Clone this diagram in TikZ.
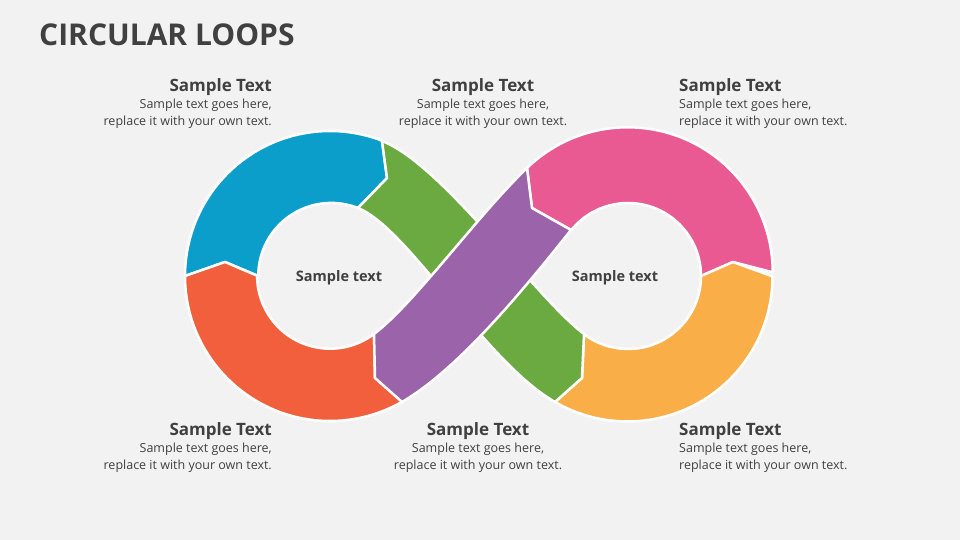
\documentclass[tikz,border=0pt]{standalone}
\usepackage{fontspec}
\setmainfont{Open Sans}
\definecolor{bg}{HTML}{F2F2F2}
\definecolor{txt}{HTML}{404040}
\definecolor{cblue}{HTML}{0B9ECB}
\definecolor{corange}{HTML}{F25F3C}
\definecolor{cpink}{HTML}{E95A93}
\definecolor{cyellow}{HTML}{F9AE48}
\definecolor{cgreen}{HTML}{6BAA40}
\definecolor{cpurple}{HTML}{9B63AA}
\begin{document}
\begin{tikzpicture}[x=1pt,y=1pt,
  seg/.style={draw=white,line width=2.5pt,line join=round},
  head/.style={text=txt,font=\fontsize{17}{20}\selectfont\bfseries,inner sep=0pt},
  body/.style={text=txt,font=\fontsize{12.5}{17}\selectfont,inner sep=0pt},
  mid/.style={text=txt,font=\fontsize{14.5}{17}\selectfont\bfseries,inner sep=0pt}]
\fill[bg] (0,0) rectangle (960,540);
\useasboundingbox (0,0) rectangle (960,540);
% blue
\path[seg,fill=cblue] (185,264) arc[start angle=180,end angle=69,radius=145]
  -- (387,362) -- (358,332) arc[start angle=68.5,end angle=180,radius=73] -- (225,278) -- cycle;
% orange
\path[seg,fill=corange] (185,264) arc[start angle=180,end angle=300,radius=145]
  -- (375,162) -- (374,206) arc[start angle=-53,end angle=-180,radius=73] -- (225,278) -- cycle;
% pink
\path[seg,fill=cpink] (527,372) arc[start angle=134,end angle=0,radius=145]
  -- (733,278) -- (701,264) arc[start angle=0,end angle=141,radius=73] -- (532,332) -- cycle;
% yellow
\path[seg,fill=cyellow] (555,138) arc[start angle=-120,end angle=0,radius=145]
  -- (733,278) -- (701,264) arc[start angle=0,end angle=-127,radius=73] -- (582,162) -- cycle;
% green
\path[seg,fill=cgreen] (382,399) .. controls (442,376) and (536,242) .. (584,206)
  -- (582,162) -- (555,138) .. controls (485,178) and (408,312) .. (358,332)
  -- (387,362) -- cycle;
% purple
\path[seg,fill=cpurple] (374,206) .. controls (414,236) and (477,324) .. (527,372)
  -- (532,332) -- (571,310) .. controls (531,260) and (462,173) .. (402,138)
  -- (375,162) -- cycle;
% texts
\node[anchor=west,text=txt,font=\fontsize{30}{34}\selectfont\bfseries,inner sep=0pt] (title) at (39,505) {CIRCULAR LOOPS};
\node[mid] (lc) at (339,262) {Sample text};
\node[mid] (rc) at (615,262) {Sample text};
\node[head,anchor=east] (h1) at (272,453) {Sample Text};
\node[body,anchor=north east,align=right] (b1) at (272,441) {Sample text goes here,\\replace it with your own text.};
\node[head] (h2) at (483,453) {Sample Text};
\node[body,anchor=north,align=center] (b2) at (483,441) {Sample text goes here,\\replace it with your own text.};
\node[head,anchor=west] (h3) at (679,453) {Sample Text};
\node[body,anchor=north west,align=left] (b3) at (679,441) {Sample text goes here,\\replace it with your own text.};
\node[head,anchor=east] (h4) at (272,109) {Sample Text};
\node[body,anchor=north east,align=right] (b4) at (272,97) {Sample text goes here,\\replace it with your own text.};
\node[head] (h5) at (478,109) {Sample Text};
\node[body,anchor=north,align=center] (b5) at (478,97) {Sample text goes here,\\replace it with your own text.};
\node[head,anchor=west] (h6) at (679,109) {Sample Text};
\node[body,anchor=north west,align=left] (b6) at (679,97) {Sample text goes here,\\replace it with your own text.};
\end{tikzpicture}
\end{document}
